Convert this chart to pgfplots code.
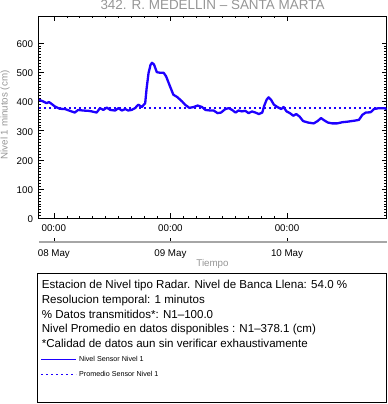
\documentclass[border=0pt]{standalone}
\usepackage{pgfplots}
\pgfplotsset{compat=1.18}
\usepackage{fontspec}
\setmainfont{Liberation Sans}
\definecolor{lineblue}{RGB}{30,0,255}
\definecolor{txtgray}{RGB}{150,150,150}
\begin{document}
\begin{tikzpicture}[x=1bp,y=1bp]
\useasboundingbox (0,0) rectangle (388,404);
\begin{axis}[
  at={(38.8bp,185.5bp)}, anchor=south west,
  width=347.8bp, height=202.5bp, scale only axis,
  xmin=-3.1, xmax=68.5, ymin=0, ymax=692,
  xtick={0,24,48}, xticklabels={00:00,00:00,00:00},
  minor x tick num=8,
  ytick={0,100,...,600}, minor y tick num=9,
  tick align=inside,
  major tick length=5bp, minor tick length=2.5bp,
  tick style={black, line width=0.6bp},
  axis line style={line width=0.8bp},
  ticklabel style={font=\fontsize{9.8}{10}\selectfont},
  xticklabel style={yshift=-3bp},
  yticklabel style={xshift=-2.3bp, yshift=-1bp},
  /pgf/number format/assume math mode=true,
  legend style={at={(axis description cs:0.005,-0.668)}, anchor=north west,
    draw=none, fill=none, font=\fontsize{7.2}{8}\selectfont,
    inner sep=0pt, row sep=4.5bp, legend cell align=left},
  legend image code/.code={\draw[#1, draw=lineblue] (0bp,0bp) -- (35bp,0bp);},
]
\addplot[lineblue, line width=2.3bp, line join=round, forget plot] coordinates {
(-3.1,406) (-2.2,400) (-1.5,394) (-1.0,398) (-0.5,392) (0.2,383) (1.2,375)
(2.3,374) (3.3,368) (4.3,362) (5.0,371) (6.0,369) (7.1,368) (7.8,366)
(8.8,362) (9.5,377) (10.2,371) (10.9,379) (11.6,371) (12.6,369) (13.3,377)
(14.0,369) (14.7,374) (15.3,369) (16.0,371) (16.7,377) (17.4,389) (18.1,381)
(18.8,394) (19.1,445) (19.5,498) (19.9,525) (20.2,532) (20.6,527) (21.2,500)
(21.9,498) (22.6,498) (23.1,486) (23.9,452) (24.6,423) (25.4,415) (26.4,400)
(27.0,389) (27.9,378) (28.8,381) (29.6,386) (30.5,381) (31.2,371) (32.2,369)
(32.9,369) (33.7,360) (34.4,362) (35.3,374) (36.0,377) (36.7,371) (37.4,362)
(38.0,369) (38.7,366) (39.4,368) (40.1,360) (40.8,366) (41.5,362) (42.2,357)
(42.9,362) (43.3,385) (43.8,406) (44.2,414) (44.7,406) (45.3,389) (46.0,381)
(46.8,374) (47.3,381) (47.9,366) (48.6,360) (49.3,351) (49.9,357) (50.6,348)
(51.3,333) (52.3,328) (53.5,325) (54.3,333) (55.0,343) (55.7,335) (56.4,328)
(57.3,325) (58.3,325) (59.4,329) (60.5,331) (61.8,334) (62.8,337) (63.5,354)
(64.2,362) (65.2,363) (65.9,374) (66.9,377) (68.0,377) (68.5,374)
};
\addplot[lineblue, line width=2bp, dash pattern=on 2bp off 3bp, forget plot] coordinates {(-3.1,378.1) (68.5,378.1)};
\addlegendimage{line width=1.4bp}
\addlegendentry{Nivel Sensor Nivel 1}
\addlegendimage{line width=1.2bp, dash pattern=on 1.2bp off 3.8bp}
\addlegendentry{Promedio Sensor Nivel 1}
\end{axis}
\begin{axis}[
  at={(38.8bp,162.3bp)}, anchor=south west,
  width=347.8bp, height=5bp, scale only axis,
  xmin=-3.1, xmax=68.5, ymin=0, ymax=1,
  axis x line*=bottom, axis y line=none,
  xtick={0,24,48}, xticklabels={08 May,09 May,10 May},
  tick align=inside, major tick length=4bp,
  xtick style={black, line width=0.6bp},
  x axis line style={line width=1.8bp, color=black!35},
  xticklabel style={font=\fontsize{9.8}{10}\selectfont, yshift=-4bp},
]
\addplot[draw=none] coordinates {(0,0)};
\end{axis}
\node[anchor=base, text=txtgray, font=\fontsize{13.5}{14}\selectfont, inner sep=0] at (212.5,394) {342. R. MEDELLIN -- SANTA MARTA};
\node[anchor=base, text=txtgray, font=\fontsize{9.8}{10}\selectfont, inner sep=0] at (212.5,137.5) {Tiempo};
\node[rotate=90, text=txtgray, font=\fontsize{9.8}{10}\selectfont, inner sep=0] at (5,289) {Nivel 1 minutos (cm)};
\draw[line width=1bp] (37.3,130.7) rectangle (386.7,1.3);
\begin{scope}[every node/.style={anchor=base west, inner sep=0, font=\fontsize{11.6}{12}\selectfont}]
\node at (41.7,115.2) {Estacion de Nivel tipo Radar. Nivel de Banca Llena: 54.0 \%};
\node at (41.7,100.6) {Resolucion temporal: 1 minutos};
\node at (41.7,86.0) {\% Datos transmitidos*: N1--100.0};
\node at (41.7,71.4) {Nivel Promedio en datos disponibles : N1--378.1 (cm)};
\node at (41.7,56.9) {*Calidad de datos aun sin verificar exhaustivamente};
\end{scope}
\end{tikzpicture}
\end{document}
